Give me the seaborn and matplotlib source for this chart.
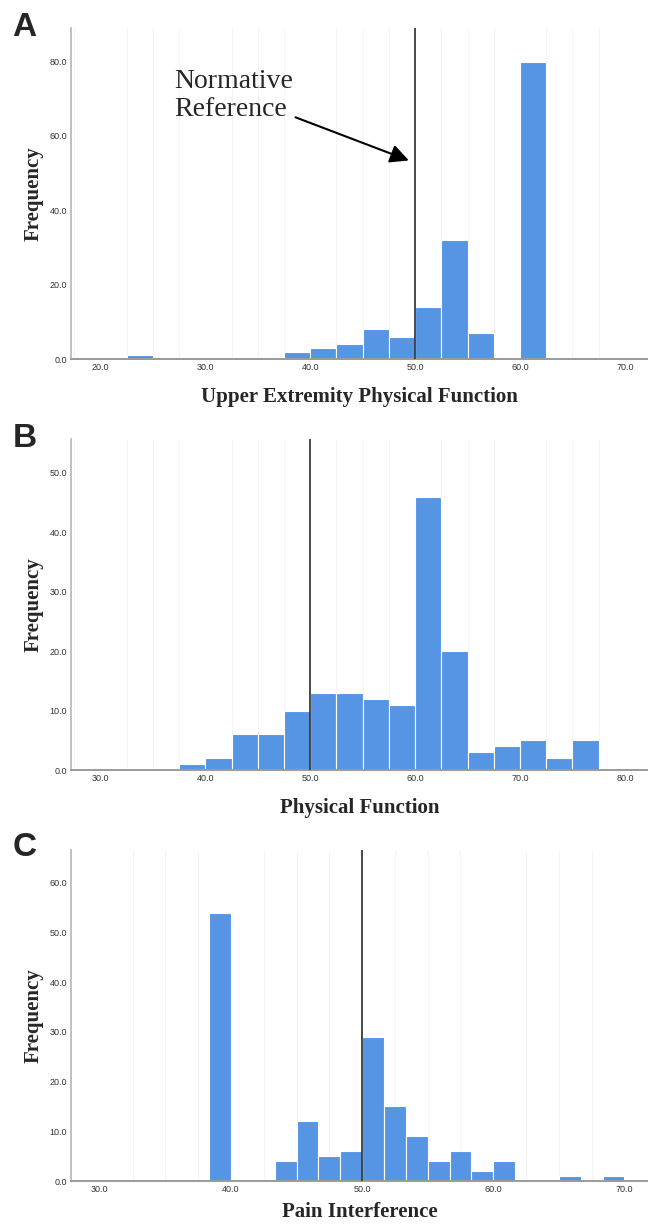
import matplotlib
matplotlib.use("Agg")
import matplotlib.pyplot as plt
import seaborn as sns
import pandas as pd
from matplotlib.ticker import MultipleLocator, FormatStrFormatter

# Histogram data (bin midpoint -> frequency)
a_scores = [23.75, 38.75, 41.25, 43.75, 46.25, 48.75, 51.25, 53.75, 56.25, 61.25]
a_counts = [1, 2, 3, 4, 8, 6, 14, 32, 7, 80]

b_scores = [38.75, 41.25, 43.75, 46.25, 48.75, 51.25, 53.75, 56.25,
            58.75, 61.25, 63.75, 66.25, 68.75, 71.25, 73.75, 76.25]
b_counts = [1, 2, 6, 6, 10, 13, 13, 12, 11, 46, 20, 3, 4, 5, 2, 5]

c_scores = [39.17, 44.17, 45.83, 47.5, 49.17, 50.83, 52.5, 54.17,
            55.83, 57.5, 59.17, 60.83, 65.83, 69.17]
c_counts = [54, 4, 12, 5, 6, 29, 15, 9, 4, 6, 2, 4, 1, 1]

norm_ref = 50.0

sns.set_style("white")
BAR = "#5595e4"
SERIF = ["Liberation Serif", "DejaVu Serif"]
TICKFONT = ["Liberation Sans Narrow", "Liberation Sans", "DejaVu Sans"]

fig = plt.figure(figsize=(6.48, 12.25), dpi=100)

panels = [
    # letter, scores, counts, bins, binrange, xlim, ylim, xticks, yticks, xlabel, axes bottom, label y
    ("A", a_scores, a_counts, 16, (22.5, 62.5), (17.2, 72.2), (0, 89),
     range(20, 71, 10), range(0, 81, 20), "Upper Extremity Physical Function", 0.7069, -0.083),
    ("B", b_scores, b_counts, 16, (37.5, 77.5), (27.2, 82.2), (0, 55.7),
     range(30, 81, 10), range(0, 51, 10), "Physical Function", 0.3714, -0.083),
    ("C", c_scores, c_counts, 19, (38.33, 70.0), (27.8, 71.8), (0, 66.6),
     range(30, 71, 10), range(0, 61, 10), "Pain Interference", 0.0359, -0.064),
]

axes = []
for letter, xs, ws, nb, brange, xl, yl, xt, yt, xlab, bottom, laby in panels:
    ax = fig.add_axes([0.1096, bottom, 0.8904, 0.2702])
    df = pd.DataFrame({"score": xs, "count": ws})
    sns.histplot(data=df, x="score", weights="count", bins=nb, binrange=brange,
                 color=BAR, alpha=1, edgecolor="white", linewidth=0.8, ax=ax)
    ax.axvline(norm_ref, color="#3a3a3a", lw=1.3, zorder=5)

    ax.set_xlim(*xl)
    ax.set_ylim(*yl)
    ax.set_xticks(list(xt))
    ax.set_yticks(list(yt))
    ax.xaxis.set_major_formatter(FormatStrFormatter("%.1f"))
    ax.yaxis.set_major_formatter(FormatStrFormatter("%.1f"))
    ax.xaxis.set_minor_locator(MultipleLocator(2.5))
    ax.grid(False)
    ax.grid(axis="x", which="minor", color="#f4f4f4", lw=0.8)
    ax.set_axisbelow(True)
    ax.tick_params(length=0, labelsize=6.5, labelcolor="#333333", pad=3)
    for t in ax.get_xticklabels() + ax.get_yticklabels():
        t.set_family(TICKFONT)

    for s in ["top", "right"]:
        ax.spines[s].set_visible(False)
    ax.spines["left"].set_color("#b5b5b5")
    ax.spines["left"].set_linewidth(1.2)
    ax.spines["bottom"].set_color("#9a9a9a")
    ax.spines["bottom"].set_linewidth(1.4)

    ax.set_xlabel(xlab, fontsize=15, fontweight="bold", family=SERIF)
    ax.set_ylabel("Frequency", fontsize=15, fontweight="bold", family=SERIF)
    ax.xaxis.set_label_coords(0.5, laby)
    ax.yaxis.set_label_coords(-0.047, 0.5)
    axes.append(ax)

# panel letters
for letter, ypix in [("A", 27), ("B", 438), ("C", 848)]:
    fig.text(0.038, 1 - ypix / 1225, letter, fontsize=24, fontweight="bold",
             family=["Liberation Sans", "DejaVu Sans"], ha="center", va="center")

# normative reference annotation on panel A
ax = axes[0]
ax.text(27.05, 70.8, "Normative\nReference", fontsize=20, family=SERIF,
        ha="left", va="center", linespacing=1.15)
ax.annotate("", xy=(49.4, 53.4), xytext=(38.6, 65.0),
            arrowprops=dict(arrowstyle="-|>", color="black", lw=1.5,
                            mutation_scale=28, shrinkA=0, shrinkB=0))

fig.savefig("out.png", dpi=100)
